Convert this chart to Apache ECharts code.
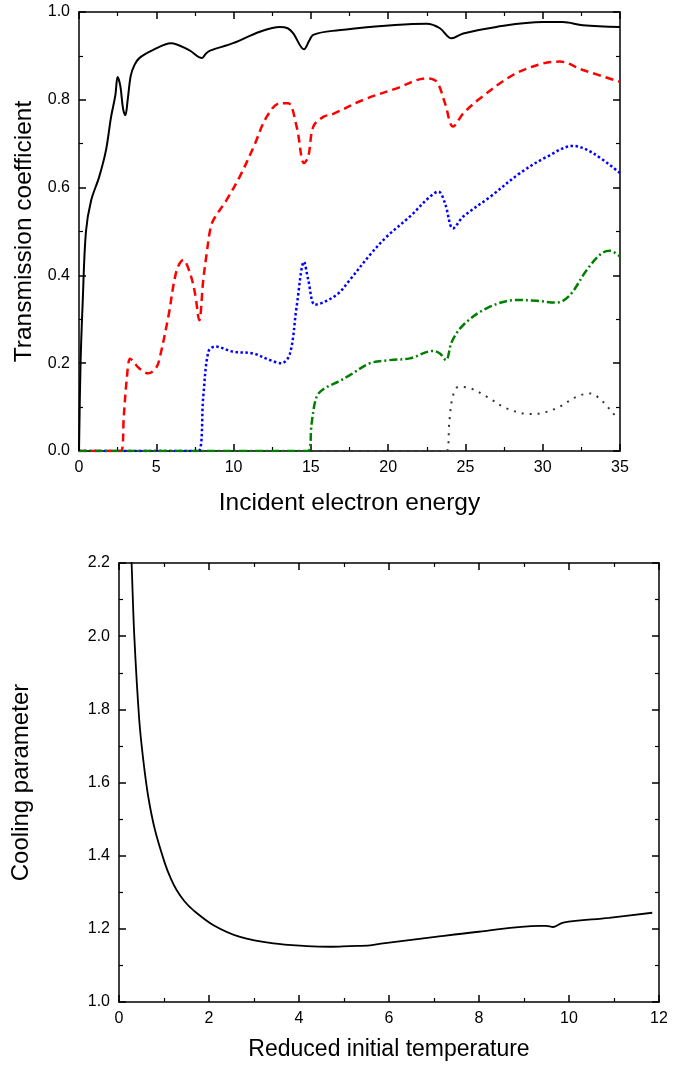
<!DOCTYPE html>
<html>
<head>
<meta charset="utf-8">
<script src="https://cdn.jsdelivr.net/npm/echarts/dist/echarts.min.js"></script>
<style>
  html, body { margin: 0; padding: 0; background: #fff; }
  #main { width: 681px; height: 1065px; }
</style>
</head>
<body>
<div id="main"></div>
<script>
// top panel: transmission coefficient vs incident energy, one curve per channel
var energyCh1 = [0, 0.1, 0.24, 0.45, 0.78, 1.31, 1.75, 2.07, 2.35, 2.5, 2.68, 2.85, 3.0, 3.15, 3.35, 3.6, 3.9, 4.77, 5.95, 7.12, 7.96, 8.2, 8.48, 9.97, 11.7, 13.0, 13.5, 13.85, 14.56, 14.9, 15.15, 16.4, 22.5, 23.35, 24.1, 24.86, 27.0, 30.0, 31.3, 32.6, 35];
var transCh1 = [0, 0.2, 0.34, 0.5, 0.57, 0.625, 0.686, 0.76, 0.81, 0.852, 0.83, 0.78, 0.765, 0.8, 0.855, 0.88, 0.895, 0.913, 0.929, 0.913, 0.895, 0.905, 0.912, 0.929, 0.955, 0.966, 0.963, 0.952, 0.915, 0.935, 0.948, 0.957, 0.973, 0.963, 0.94, 0.951, 0.966, 0.977, 0.977, 0.97, 0.966];

var energyCh2 = [0, 2.72, 2.9, 3.08, 3.3, 3.5, 3.84, 4.48, 5.0, 5.24, 5.78, 6.32, 6.75, 7.18, 7.5, 7.78, 8.04, 8.26, 8.48, 8.69, 9.55, 10.4, 11.3, 12.14, 13.0, 13.54, 14.08, 14.56, 14.83, 15.16, 15.8, 16.45, 18.4, 20.55, 22.5, 23.14, 23.68, 24.2, 24.86, 25.94, 28.1, 30.04, 31.1, 32.6, 35];
var transCh2 = [0, 0, 0.08, 0.16, 0.21, 0.205, 0.19, 0.177, 0.19, 0.215, 0.306, 0.412, 0.435, 0.405, 0.36, 0.298, 0.39, 0.45, 0.503, 0.526, 0.572, 0.625, 0.693, 0.761, 0.792, 0.792, 0.739, 0.656, 0.67, 0.739, 0.761, 0.768, 0.8, 0.826, 0.849, 0.841, 0.792, 0.739, 0.769, 0.803, 0.857, 0.883, 0.887, 0.868, 0.841];

var energyCh3 = [0, 7.72, 8.04, 8.37, 8.8, 9.98, 11.28, 12.36, 13.1, 13.65, 14.08, 14.56, 14.83, 15.27, 15.9, 16.78, 17.53, 18.83, 19.9, 21.4, 22.7, 23.25, 23.68, 24.2, 24.86, 26.6, 28.53, 30.26, 31.98, 33.27, 35];
var transCh3 = [0, 0, 0.124, 0.226, 0.238, 0.226, 0.222, 0.207, 0.2, 0.222, 0.329, 0.431, 0.39, 0.333, 0.34, 0.359, 0.39, 0.447, 0.488, 0.534, 0.579, 0.591, 0.564, 0.507, 0.534, 0.579, 0.633, 0.67, 0.695, 0.678, 0.633];

var energyCh4 = [0, 14.83, 15.05, 15.38, 15.9, 16.78, 17.53, 18.83, 20.1, 21.4, 22.92, 23.35, 23.74, 24.12, 24.86, 26.37, 28.3, 29.6, 30.9, 31.76, 32.84, 33.8, 34.35, 35];
var transCh4 = [0, 0, 0.063, 0.124, 0.143, 0.158, 0.173, 0.2, 0.207, 0.211, 0.228, 0.222, 0.207, 0.249, 0.287, 0.325, 0.344, 0.342, 0.338, 0.355, 0.412, 0.45, 0.456, 0.443];

var energyCh5 = [0, 23.79, 23.96, 24.18, 24.54, 25.3, 26.37, 27.67, 29.18, 30.04, 31.1, 32.2, 33.06, 33.9, 34.66, 35];
var transCh5 = [0, 0, 0.067, 0.124, 0.146, 0.143, 0.124, 0.097, 0.084, 0.087, 0.101, 0.124, 0.131, 0.112, 0.082, 0.075];

// bottom panel: cooling parameter vs reduced initial temperature
var tempReduced = [0.2, 0.28, 0.34, 0.45, 0.54, 0.65, 0.8, 1.02, 1.15, 1.28, 1.45, 1.65, 2.1, 2.69, 3.43, 4.17, 4.69, 5.13, 5.58, 5.87, 7.03, 7.99, 9.34, 9.49, 9.65, 9.87, 10.89, 11.85];
var coolingParam = [2.45, 2.2, 2.0, 1.771, 1.661, 1.561, 1.47, 1.379, 1.338, 1.306, 1.276, 1.251, 1.21, 1.178, 1.16, 1.153, 1.151, 1.153, 1.155, 1.16, 1.178, 1.192, 1.208, 1.208, 1.205, 1.217, 1.23, 1.244];

var topXTicks = [0, 5, 10, 15, 20, 25, 30, 35];
var topYTicks = ['0.0', '0.2', '0.4', '0.6', '0.8', '1.0'];
var botXTicks = [0, 2, 4, 6, 8, 10, 12];
var botYTicks = ['1.0', '1.2', '1.4', '1.6', '1.8', '2.0', '2.2'];

function zip(xs, ys) {
  return xs.map(function (x, i) { return [x, ys[i]]; });
}

var font = 'Liberation Sans';

function mainAxis(gridIndex, pos, min, max, interval, labels, size) {
  return {
    type: 'value',
    gridIndex: gridIndex,
    position: pos,
    min: min,
    max: max,
    interval: interval,
    axisLine: { show: true, onZero: false, lineStyle: { color: '#000', width: 1.5 } },
    axisTick: { show: true, inside: true, length: 7, lineStyle: { color: '#000', width: 1.5 } },
    minorTick: { show: true, splitNumber: 2, length: 4, lineStyle: { color: '#000', width: 1.2 } },
    splitLine: { show: false },
    axisLabel: {
      show: labels != null,
      color: '#000',
      fontFamily: font,
      fontSize: size,
      margin: 9,
      formatter: function (v) {
        if (!labels) return '';
        var idx = Math.round((v - min) / interval);
        return labels[idx] != null ? String(labels[idx]) : '';
      }
    }
  };
}

function withName(axis, name, gap, size) {
  axis.name = name;
  axis.nameLocation = 'middle';
  axis.nameGap = gap;
  axis.nameTextStyle = { fontFamily: font, fontSize: size, color: '#000' };
  return axis;
}

var chart = echarts.init(document.getElementById('main'), null, { renderer: 'canvas' });

var lineDefaults = { type: 'line', showSymbol: false, smooth: 0.35, clip: true };

function curve(xi, yi, xs, ys, style) {
  return Object.assign({}, lineDefaults, { xAxisIndex: xi, yAxisIndex: yi, data: zip(xs, ys), lineStyle: style });
}

var option = {
  backgroundColor: '#fff',
  animation: false,
  grid: [
    { left: 79, top: 12, width: 541, height: 439 },
    { left: 119, top: 563, width: 540, height: 439 }
  ],
  xAxis: [
    withName(mainAxis(0, 'bottom', 0, 35, 5, topXTicks, 16), 'Incident electron energy', 40, 24.5),
    mainAxis(0, 'top', 0, 35, 5, null, 16),
    withName(mainAxis(1, 'bottom', 0, 12, 2, botXTicks, 16), 'Reduced initial temperature', 36, 23),
    mainAxis(1, 'top', 0, 12, 2, null, 16)
  ],
  yAxis: [
    withName(mainAxis(0, 'left', 0, 1, 0.2, topYTicks, 16), 'Transmission coefficient', 37, 24.5),
    mainAxis(0, 'right', 0, 1, 0.2, null, 16),
    withName(mainAxis(1, 'left', 1.0, 2.2, 0.2, botYTicks, 16), 'Cooling parameter', 86, 24),
    mainAxis(1, 'right', 1.0, 2.2, 0.2, null, 16)
  ],
  series: [
    curve(0, 0, energyCh5, transCh5, { color: '#333', width: 2, type: [2, 6] }),
    curve(0, 0, energyCh3, transCh3, { color: '#0000ff', width: 2.5, type: [2.5, 2.5] }),
    curve(0, 0, energyCh2, transCh2, { color: '#ff0000', width: 2.5, type: [8, 5] }),
    curve(0, 0, energyCh4, transCh4, { color: '#008000', width: 2.5, type: [8, 3, 2, 3] }),
    curve(0, 0, energyCh1, transCh1, { color: '#000', width: 2 }),
    curve(2, 2, tempReduced, coolingParam, { color: '#000', width: 1.8 })
  ]
};

chart.setOption(option);
</script>
</body>
</html>
